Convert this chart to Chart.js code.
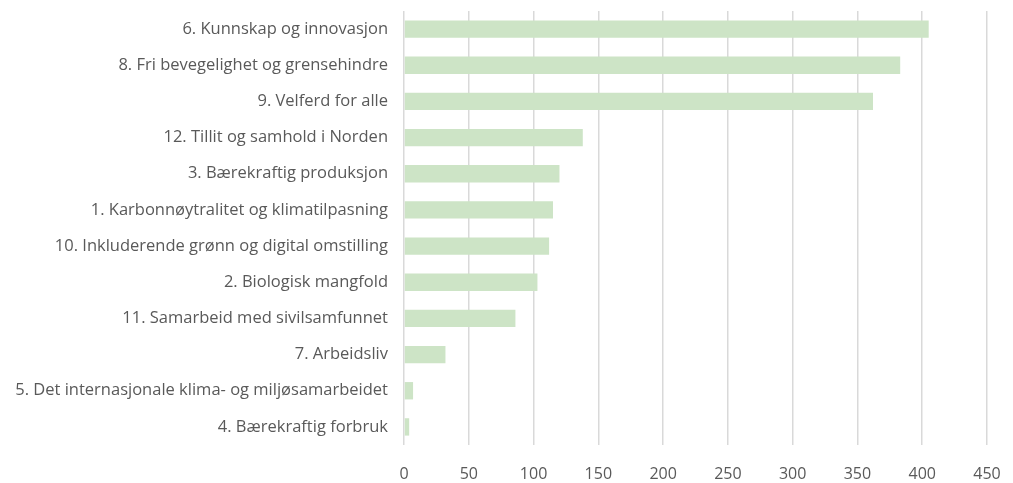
<!DOCTYPE html>
<html>
<head>
<meta charset="utf-8">
<script src="https://cdn.jsdelivr.net/npm/chart.js@4.4.0/dist/chart.umd.min.js"></script>
<style>
  html, body { margin: 0; padding: 0; background: #fff; }
  #wrap { width: 1013px; height: 483px; }
</style>
</head>
<body>
<div id="wrap"><canvas id="myChart" width="1013" height="483"></canvas></div>
<script>
var categories = [
    '6. Kunnskap og innovasjon',
    '8. Fri bevegelighet og grensehindre',
    '9. Velferd for alle',
    '12. Tillit og samhold i Norden',
    '3. Bærekraftig produksjon',
    '1. Karbonnøytralitet og klimatilpasning',
    '10. Inkluderende grønn og digital omstilling',
    '2. Biologisk mangfold',
    '11. Samarbeid med sivilsamfunnet',
    '7. Arbeidsliv',
    '5. Det internasjonale klima- og miljøsamarbeidet',
    '4. Bærekraftig forbruk'
];
var values = [405, 383, 362, 138, 120, 115, 112, 103, 86, 32, 7, 4];
var xTicks = [0, 50, 100, 150, 200, 250, 300, 350, 400, 450];

var fontFam = '"Open Sans", Lato, sans-serif';

var ctx = document.getElementById('myChart').getContext('2d');
var myChart = new Chart(ctx, {
    type: 'bar',
    data: {
        labels: categories,
        datasets: [{
            data: values,
            backgroundColor: '#cde4c6',
            borderWidth: 0,
            barPercentage: 0.48,
            categoryPercentage: 1
        }]
    },
    options: {
        indexAxis: 'y',
        responsive: false,
        animation: false,
        layout: { padding: { top: 11, right: 26, left: 0, bottom: 0 } },
        plugins: { legend: { display: false }, tooltip: { enabled: false } },
        scales: {
            x: {
                min: 0,
                max: 450,
                afterBuildTicks: function (scale) {
                    scale.ticks = xTicks.map(function (v) { return { value: v }; });
                },
                afterFit: function (scale) {
                    scale.height = 38;
                    scale.paddingLeft = 0;
                    scale.paddingRight = 0;
                },
                grid: { color: '#d9d9d9', lineWidth: 1.5, drawTicks: false },
                border: { display: false },
                ticks: { color: '#595959', font: { family: fontFam, size: 16 }, padding: 20 }
            },
            y: {
                afterFit: function (scale) {
                    scale.width = 404;
                    scale.paddingTop = 0;
                    scale.paddingBottom = 0;
                },
                grid: { display: false, drawTicks: false },
                border: { display: false },
                ticks: { color: '#595959', font: { family: fontFam, size: 16.5 }, padding: 16 }
            }
        }
    }
});
</script>
</body>
</html>
